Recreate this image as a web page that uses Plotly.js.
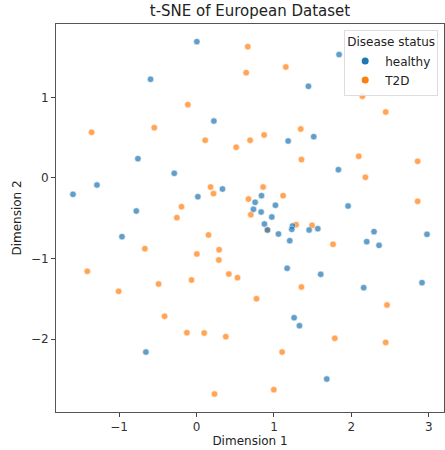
<!DOCTYPE html>
<html>
<head>
<meta charset="utf-8">
<script src="https://cdn.plot.ly/plotly-3.0.1.min.js"></script>
<style>html,body{margin:0;padding:0;background:#fff;}#chart{width:445px;height:450px;}</style>
</head>
<body>
<div id="chart"></div>
<script>
// Healthy samples (Dimension 1, Dimension 2)
const healthyX = [0.004,-0.594,0.224,1.445,1.841,1.183,1.514,-0.757,-0.288,1.832,-1.596,-1.286,0.017,0.335,-0.778,-0.963,0.839,0.757,0.735,0.834,1.019,0.972,0.877,0.916,1.058,1.239,1.230,1.204,1.454,1.566,1.957,2.292,2.198,2.357,2.976,1.170,1.604,2.159,2.912,1.260,1.329,-0.654,1.682];
const healthyY = [1.692,1.225,0.707,1.138,1.531,0.459,0.513,0.240,0.058,0.103,-0.203,-0.087,-0.232,-0.137,-0.410,-0.728,-0.219,-0.302,-0.389,-0.422,-0.339,-0.484,-0.571,-0.645,-0.695,-0.596,-0.637,-0.778,-0.645,-0.629,-0.348,-0.666,-0.790,-0.836,-0.699,-1.121,-1.196,-1.361,-1.299,-1.734,-1.833,-2.160,-2.495];
// T2D samples
const t2dX = [0.662,0.641,1.153,2.142,2.443,-0.112,-0.546,-1.355,0.112,0.692,0.873,0.512,1.346,1.355,2.095,2.181,2.856,2.856,0.181,0.219,0.860,1.118,0.671,-0.194,-0.254,0.701,1.286,1.492,1.763,0.155,-0.667,0.004,0.292,0.288,-1.411,-1.006,-0.490,-0.065,0.417,0.529,1.355,0.774,2.460,-0.413,-0.125,0.099,0.378,1.785,2.443,1.105,0.998,0.232,0.916];
const t2dY = [1.630,1.307,1.378,1.014,0.819,0.910,0.625,0.567,0.468,0.468,0.534,0.381,0.608,0.228,0.269,0.008,0.207,-0.290,-0.112,-0.194,-0.112,-0.219,-0.261,-0.356,-0.492,-0.455,-0.579,-0.588,-0.823,-0.707,-0.877,-0.943,-0.890,-1.018,-1.158,-1.407,-1.316,-1.266,-1.192,-1.237,-1.353,-1.498,-1.576,-1.717,-1.920,-1.924,-1.969,-1.990,-2.040,-2.160,-2.627,-2.681,-0.645];

const seriesNames = ['healthy','T2D'];
const seriesColors = ['#1f77b4','#ff7f0e'];

const font = 'DejaVu Sans, sans-serif';
const mk = (c) => ({color: c, size: 6.5, opacity: 0.7, line: {color: '#ffffff', width: 0.6}});

const traces = [
  {x: t2dX, y: t2dY, mode: 'markers', type: 'scatter', name: seriesNames[1], marker: mk(seriesColors[1]), showlegend: false},
  {x: healthyX, y: healthyY, mode: 'markers', type: 'scatter', name: seriesNames[0], marker: mk(seriesColors[0]), showlegend: false},
  // legend entries (solid markers as in the reference legend)
  {x: [null], y: [null], mode: 'markers', type: 'scatter', name: seriesNames[0], marker: {color: seriesColors[0], size: 7}, legendrank: 1},
  {x: [null], y: [null], mode: 'markers', type: 'scatter', name: seriesNames[1], marker: {color: seriesColors[1], size: 7}, legendrank: 2}
];

const axisCommon = {
  showgrid: false, zeroline: false, showline: true, mirror: true,
  linecolor: '#555', linewidth: 1, ticks: 'outside', ticklen: 4, tickcolor: '#444',
  tickfont: {family: font, size: 12, color: '#333'}
};

const layout = {
  width: 445, height: 450,
  margin: {l: 56, r: 1, t: 24, b: 38},
  paper_bgcolor: '#fff', plot_bgcolor: '#fff',
  font: {family: font, color: '#222'},
  title: {text: 't-SNE of European Dataset', font: {family: font, size: 15, color: '#222'}, xref: 'paper', x: 0.5, xanchor: 'center', yref: 'container', y: 0.976, yanchor: 'middle'},
  xaxis: Object.assign({}, axisCommon, {range: [-1.815, 3.196], tickvals: [-1,0,1,2,3], ticktext: ['\u22121','0','1','2','3'],
    title: {text: 'Dimension 1', font: {family: font, size: 12, color: '#222'}, standoff: 2}}),
  yaxis: Object.assign({}, axisCommon, {range: [-2.904, 1.911], tickvals: [-2,-1,0,1], ticktext: ['\u22122','\u22121','0','1'],
    title: {text: 'Dimension 2', font: {family: font, size: 12, color: '#222'}, standoff: 6}}),
  showlegend: true,
  legend: {
    x: 0.985, y: 0.985, xanchor: 'right', yanchor: 'top',
    bgcolor: 'rgba(255,255,255,0.8)', bordercolor: '#ddd', borderwidth: 1,
    title: {text: 'Disease status', font: {family: font, size: 12, color: '#222'}},
    font: {family: font, size: 12, color: '#222'},
    tracegroupgap: 0
  }
};

Plotly.newPlot('chart', traces, layout, {displayModeBar: false, staticPlot: true});
</script>
</body>
</html>
